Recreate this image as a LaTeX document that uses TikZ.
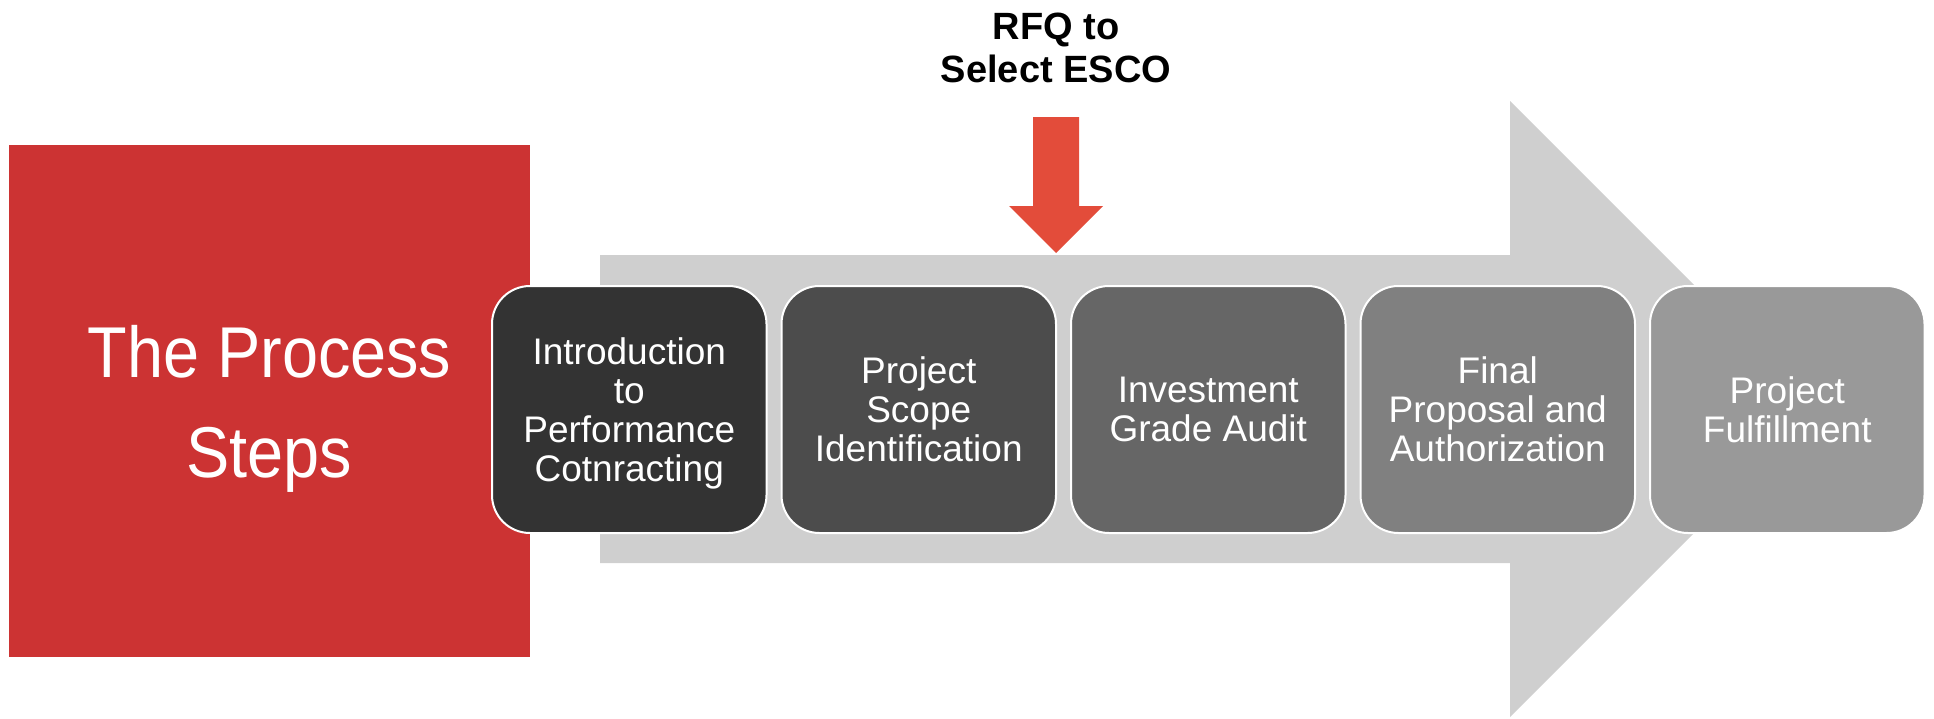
\documentclass[tikz,border=0pt]{standalone}
\usepackage{fontspec}
\setmainfont{Liberation Sans}
\newfontfamily\narrowsf{Liberation Sans}[FakeStretch=0.9]
\usetikzlibrary{positioning}
\definecolor{stepsred}{RGB}{204,51,51}
\definecolor{rfqred}{RGB}{227,76,58}
\definecolor{arrowgray}{RGB}{207,207,207}

\begin{document}
\begin{tikzpicture}[x=0.5pt,y=-0.5pt] % one unit is one pixel of the slide, y runs downwards
\tikzset{every node/.style={inner sep=0pt, outer sep=0pt}} % boxes sit exactly on their coordinates
\tikzset{stepbox/.style={draw=white, line width=1pt, rounded corners=19pt, minimum width=137.25pt, minimum height=123.5pt, text=white, align=center, text depth=0pt, font=\fontsize{18.5}{19.5}\selectfont}}
\tikzset{node distance=7.5pt} % gap between the step boxes
\useasboundingbox (0,0) rectangle (1934,718);
% big grey arrow behind the steps
\fill[arrowgray] (600,255) -- (1510,255) -- (1510,101) -- (1818,409) -- (1510,717) -- (1510,563) -- (600,563) -- cycle;
\node[fill=stepsred, minimum width=260.5pt, minimum height=256pt, text=white, align=center, text depth=-5pt, font=\narrowsf\fontsize{36}{50}\selectfont] (steps) at (269.5,401) {The Process\\Steps};
\node[stepbox, fill=black!80] (intro) at (629.25,409.5) {Introduction\\to\\Performance\\Cotnracting};
\node[stepbox, fill=black!70, right=of intro] (scope) {Project\\Scope\\Identification};
\node[stepbox, fill=black!60, right=of scope] (audit) {Investment\\Grade Audit};
\node[stepbox, fill=black!50, right=of audit] (final) {Final\\Proposal and\\Authorization};
\node[stepbox, fill=black!40, right=of final] (fulfil) {Project\\Fulfillment};
% RFQ marker
\node[align=center, font=\fontsize{19}{21.5}\selectfont\bfseries] (rfq) at (1056,48) {RFQ to\\Select ESCO};
\fill[rfqred] (1033,117) -- (1079,117) -- (1079,206) -- (1103,206) -- (1056,253) -- (1009,206) -- (1033,206) -- cycle;
\end{tikzpicture}
\end{document}
